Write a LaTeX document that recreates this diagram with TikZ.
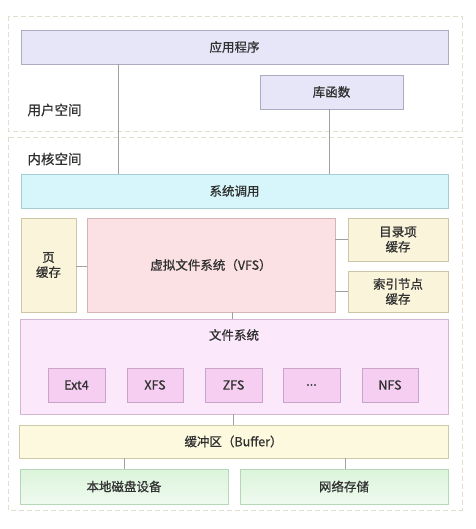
\documentclass[tikz,border=0pt]{standalone}
\usepackage{fontspec}
\setmainfont{Noto Sans CJK SC}[FakeBold=0.8]
\definecolor{txt}{HTML}{303030}
\definecolor{lnc}{HTML}{A0A0A0}
\definecolor{dashc}{HTML}{E2DECF}
\definecolor{appf}{HTML}{E6E6F8}\definecolor{appd}{HTML}{ABABC2}
\definecolor{sysf}{HTML}{D6F6FB}\definecolor{sysd}{HTML}{A6CCD4}
\definecolor{yelf}{HTML}{FAF5DA}\definecolor{yeld}{HTML}{CCC5A6}
\definecolor{vfsf}{HTML}{FBE1E3}\definecolor{vfsd}{HTML}{D4B4B4}
\definecolor{fsf}{HTML}{FBE8FB}\definecolor{fsd}{HTML}{D4B6D4}
\definecolor{inf}{HTML}{F6CEF2}\definecolor{ind}{HTML}{C8A4C8}
\definecolor{buff}{HTML}{FCF9DE}\definecolor{bufd}{HTML}{CFCAA8}
\definecolor{grf}{HTML}{DBF4DB}\definecolor{grd}{HTML}{B8D6B8}
\begin{document}
\begin{tikzpicture}[x=1pt,y=-1pt,
  every node/.style={text=txt,font=\fontsize{12.5}{15}\selectfont},
  box/.style={draw=#1,line width=0.6pt,inner sep=0pt,outer sep=0pt,align=center},
  zone/.style={draw=dashc,dashed,dash pattern=on 5pt off 3pt,line width=0.8pt},
  link/.style={draw=lnc,line width=0.7pt}]
\useasboundingbox[fill=white] (0,0) rectangle (475,529);
% zones
\draw[zone] (8,16) rectangle (462,131);
\draw[zone] (8,137) rectangle (462,510);
\node[anchor=west,font=\fontsize{13.5}{16}\selectfont] (userlbl) at (24,110) {用户空间};
\node[anchor=west,font=\fontsize{13.5}{16}\selectfont] (kernlbl) at (24,159) {内核空间};
% boxes
\node[box=appd,fill=appf,minimum width=427pt,minimum height=34pt] (app) at (234.5,47) {应用程序};
\node[box=appd,fill=appf,minimum width=143pt,minimum height=34pt] (lib) at (331.5,92) {库函数};
\node[box=sysd,fill=sysf,minimum width=427pt,minimum height=34pt] (sys) at (234.5,191) {系统调用};
\node[box=yeld,fill=yelf,minimum width=55pt,minimum height=94pt] (page) at (48.5,265) {页\\缓存};
\node[box=vfsd,fill=vfsf,minimum width=248pt,minimum height=94pt] (vfs) at (211,265) {虚拟文件系统（VFS）};
\node[box=yeld,fill=yelf,minimum width=100pt,minimum height=43pt] (dentry) at (398,239.5) {目录项\\缓存};
\node[box=yeld,fill=yelf,minimum width=100pt,minimum height=41pt] (inode) at (398,291.5) {索引节点\\缓存};
\node[box=fsd,fill=fsf,minimum width=428pt,minimum height=95pt] (fs) at (234,366.5) {};
\node (fstitle) at (234,335) {文件系统};
\node[box=ind,fill=inf,minimum width=57pt,minimum height=34pt] (ext) at (76.5,385) {Ext4};
\node[box=ind,fill=inf,minimum width=56pt,minimum height=34pt] (xfs) at (155,385) {XFS};
\node[box=ind,fill=inf,minimum width=57pt,minimum height=34pt] (zfs) at (233.5,385) {ZFS};
\node[box=ind,fill=inf,minimum width=57pt,minimum height=34pt] (dots) at (311.5,385) {...};
\node[box=ind,fill=inf,minimum width=56pt,minimum height=34pt] (nfs) at (390,385) {NFS};
\node[box=bufd,fill=buff,minimum width=429pt,minimum height=33pt] (buf) at (233.5,441.5) {缓冲区（Buffer）};
\node[box=grd,top color=grf,bottom color=grf!45,minimum width=208pt,minimum height=35pt] (disk) at (124,486.5) {本地磁盘设备};
\node[box=grd,top color=grf,bottom color=grf!45,minimum width=208pt,minimum height=35pt] (net) at (344,486.5) {网络存储};
% helper coordinates
\coordinate (c1) at (118,0);
\coordinate (c2) at (329,0);
\coordinate (c3) at (0,266);
\coordinate (c4) at (232,0);
\coordinate (c5) at (233,0);
\coordinate (c6) at (345,0);
% connectors
\draw[link] (app.south -| c1) -- (sys.north -| c1);
\draw[link] (lib.south -| c2) -- (sys.north -| c2);
\draw[link] (page.east |- c3) -- (vfs.west |- c3);
\draw[link] (vfs.east |- dentry.west) -- (dentry.west);
\draw[link] (vfs.east |- inode.west) -- (inode.west);
\draw[link] (vfs.south -| c4) -- (fs.north -| c4);
\draw[link] (fs.south -| c5) -- (buf.north -| c5);
\draw[link] (buf.south -| disk.north) -- (disk.north);
\draw[link] (buf.south -| c6) -- (net.north -| c6);
\end{tikzpicture}
\end{document}
